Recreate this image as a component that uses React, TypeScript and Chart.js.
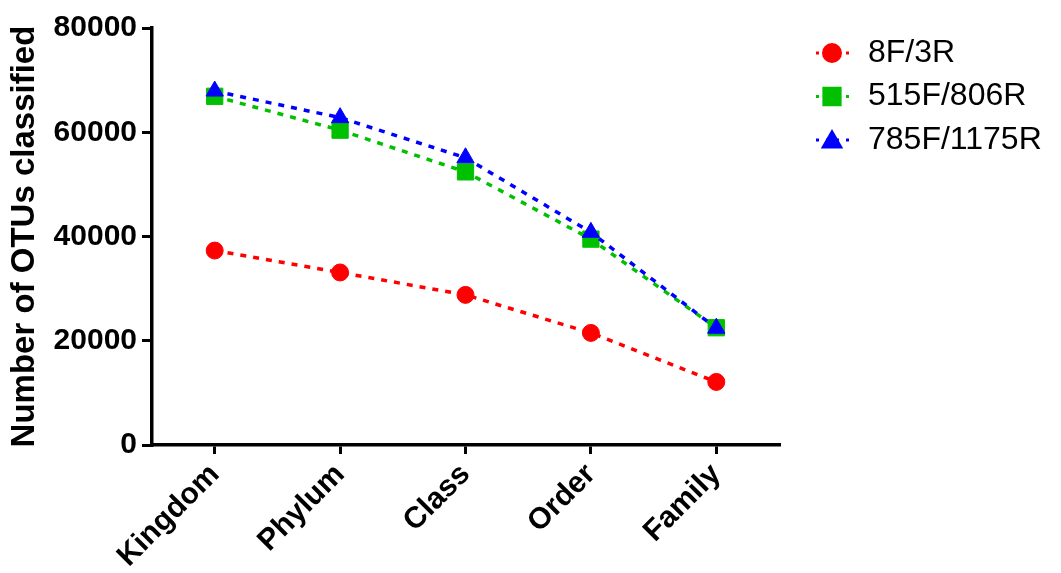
import React, { useEffect, useRef } from "react";
import { Chart, registerables } from "chart.js";
import { drawPoint } from "chart.js/helpers";

Chart.register(...registerables);

const categories = ["Kingdom", "Phylum", "Class", "Order", "Family"];
const series8F3R = [37300, 33100, 28800, 21500, 12100];
const series515F806R = [66900, 60400, 52400, 39500, 22500];
const series785F1175R = [67900, 62800, 55100, 40800, 22400];
const seriesLabels = ["8F/3R", "515F/806R", "785F/1175R"];
const yTickValues = [0, 20000, 40000, 60000, 80000];

const FONT = "'Liberation Sans', Arial, sans-serif";

const legendPlugin = {
  id: "customLegend",
  afterDraw(chart: any) {
    const ctx = chart.ctx as CanvasRenderingContext2D;
    ctx.save();
    chart.data.datasets.forEach((ds: any, i: number) => {
      const y = 53 + i * 43.5;
      ctx.strokeStyle = ds.borderColor;
      ctx.lineWidth = 3;
      ctx.setLineDash([3, 7]);
      ctx.beginPath();
      ctx.moveTo(816, y);
      ctx.lineTo(849, y);
      ctx.stroke();
      ctx.setLineDash([]);
      ctx.fillStyle = ds.pointBackgroundColor;
      ctx.strokeStyle = ds.pointBackgroundColor;
      drawPoint(
        ctx,
        { pointStyle: ds.pointStyle, radius: ds.pointRadius, rotation: 0, borderWidth: 1 } as any,
        832,
        ds.pointStyle === "triangle" ? y + 2 : y
      );
      ctx.fillStyle = "#000";
      ctx.font = `32px ${FONT}`;
      ctx.textAlign = "left";
      ctx.textBaseline = "middle";
      ctx.fillText(ds.label, 868, y);
    });
    ctx.restore();
  },
};

export default function App() {
  const ref = useRef<HTMLCanvasElement | null>(null);

  useEffect(() => {
    document.body.style.margin = "0";
    const canvas = ref.current;
    if (!canvas) return;
    const common = {
      fill: false,
      borderWidth: 3.5,
      borderDash: [6, 7],
      tension: 0,
      pointBorderWidth: 1,
      pointHoverRadius: 0,
    };
    const chart = new Chart(canvas, {
      type: "line",
      data: {
        labels: categories,
        datasets: [
          {
            ...common,
            label: seriesLabels[0],
            data: series8F3R,
            borderColor: "#FF0000",
            pointBackgroundColor: "#FF0000",
            pointBorderColor: "#FF0000",
            pointStyle: "circle",
            pointRadius: 8.5,
            order: 2,
          },
          {
            ...common,
            label: seriesLabels[1],
            data: series515F806R,
            borderColor: "#00C000",
            pointBackgroundColor: "#00C000",
            pointBorderColor: "#00C000",
            pointStyle: "rect",
            pointRadius: 11.5,
            order: 1,
          },
          {
            ...common,
            label: seriesLabels[2],
            data: series785F1175R,
            borderColor: "#0000FF",
            pointBackgroundColor: "#0000FF",
            pointBorderColor: "#0000FF",
            pointStyle: "triangle",
            pointRadius: 10,
            order: 0,
          },
        ] as any,
      },
      options: {
        responsive: false,
        animation: false,
        layout: { padding: { top: 28, right: 282, bottom: 0, left: 0 } },
        plugins: {
          legend: { display: false },
          tooltip: { enabled: false },
        },
        scales: {
          x: {
            type: "category",
            offset: true,
            grid: {
              display: true,
              offset: false,
              drawOnChartArea: false,
              drawTicks: true,
              tickLength: 9,
              color: "#000",
              lineWidth: 3,
            },
            border: { display: true, color: "#000", width: 3.5 },
            ticks: {
              color: "#000",
              font: { family: FONT, size: 30, weight: "bold" },
              maxRotation: 45,
              minRotation: 45,
              padding: 3,
            },
            afterFit: (scale: any) => {
              scale.height = 128;
            },
          },
          y: {
            min: 0,
            max: 80000,
            afterBuildTicks: (scale: any) => {
              scale.ticks = yTickValues.map((v) => ({ value: v }));
            },
            grid: {
              display: true,
              drawOnChartArea: false,
              drawTicks: true,
              tickLength: 10,
              color: "#000",
              lineWidth: 3,
            },
            border: { display: true, color: "#000", width: 3.5 },
            ticks: {
              color: "#000",
              font: { family: FONT, size: 30, weight: "bold" },
              padding: 5,
              callback: (v: any) => String(v),
            },
            title: {
              display: true,
              text: "Number of OTUs classified",
              color: "#000",
              font: { family: FONT, size: 33, weight: "bold" },
              padding: { top: 5, bottom: 0 },
            },
            afterFit: (scale: any) => {
              scale.width = 152;
            },
          },
        },
      } as any,
      plugins: [legendPlugin],
    });
    return () => chart.destroy();
  }, []);

  return (
    <div style={{ width: 1061, height: 573, background: "#fff" }}>
      <canvas ref={ref} width={1061} height={573} style={{ display: "block" }} />
    </div>
  );
}
